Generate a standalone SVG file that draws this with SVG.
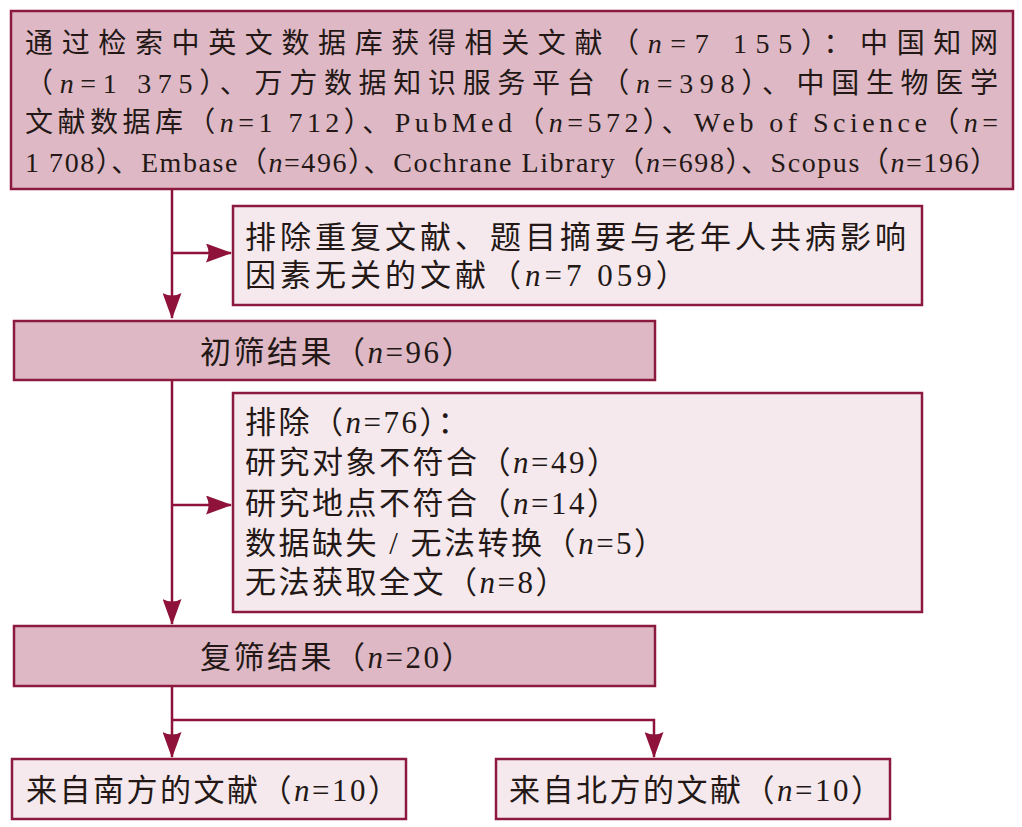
<svg xmlns="http://www.w3.org/2000/svg" width="1022" height="827" viewBox="0 0 1022 827">
<style>
.dark{fill:#DEB9C5;stroke:#8C1A3F;stroke-width:2.5}
.light{fill:#F5E9EE;stroke:#8C1A3F;stroke-width:2.5}
text{font-family:"Liberation Serif","Noto Sans CJK SC",serif;fill:#231815}
.t28{font-size:28px}
.t31{font-size:31px}
.n{font-style:italic}
.conn{fill:none;stroke:#8E1239;stroke-width:2.5}
</style>
<defs>
<marker id="arr" viewBox="0 0 26 19" refX="25" refY="9.5" markerWidth="26" markerHeight="19" markerUnits="userSpaceOnUse" orient="auto">
<path d="M0,0 L26,9.5 L0,19 Q5,9.5 0,0 Z" fill="#8E1239"/>
</marker>
</defs>
<g id="connectors">
<path class="conn" d="M172,189 L172,318" marker-end="url(#arr)"/>
<path class="conn" d="M172,253 L231,253" marker-end="url(#arr)"/>
<path class="conn" d="M172,380 L172,624" marker-end="url(#arr)"/>
<path class="conn" d="M172,505 L231,505" marker-end="url(#arr)"/>
<path class="conn" d="M172,686 L172,757" marker-end="url(#arr)"/>
<path class="conn" d="M172,720 L654,720 L654,757" marker-end="url(#arr)"/>
</g>
<g id="node-search">
<rect class="dark" x="11" y="11" width="1002" height="178"/>
<text class="t28" x="25" y="53" textLength="973" lengthAdjust="spacing">通过检索中英文数据库获得相关文献（<tspan class="n">n</tspan>=7 155）：中国知网</text>
<text class="t28" x="25" y="93" textLength="973" lengthAdjust="spacing">（<tspan class="n">n</tspan>=1 375）、万方数据知识服务平台（<tspan class="n">n</tspan>=398）、中国生物医学</text>
<text class="t28" x="25" y="132" textLength="973" lengthAdjust="spacing">文献数据库（<tspan class="n">n</tspan>=1 712）、PubMed（<tspan class="n">n</tspan>=572）、Web of Science（<tspan class="n">n</tspan>=</text>
<text class="t28" x="25" y="172" textLength="973" lengthAdjust="spacing">1 708）、Embase（<tspan class="n">n</tspan>=496）、Cochrane Library（<tspan class="n">n</tspan>=698）、Scopus（<tspan class="n">n</tspan>=196）</text>
</g>
<g id="node-exclude1">
<rect class="light" x="233" y="206" width="689" height="99"/>
<text class="t31" x="245" y="248" letter-spacing="4">排除重复文献、题目摘要与老年人共病影响</text>
<text class="t31" x="245" y="286" letter-spacing="4">因素无关的文献（<tspan class="n">n</tspan>=7 059）</text>
</g>
<g id="node-initial">
<rect class="dark" x="14" y="321" width="641" height="59"/>
<text class="t31" x="200" y="363" letter-spacing="2.5">初筛结果（<tspan class="n">n</tspan>=96）</text>
</g>
<g id="node-exclude2">
<rect class="light" x="233" y="393" width="689" height="219"/>
<text class="t31" x="245" y="433" letter-spacing="2.5">排除（<tspan class="n">n</tspan>=76）：</text>
<text class="t31" x="245" y="473" letter-spacing="2.5">研究对象不符合（<tspan class="n">n</tspan>=49）</text>
<text class="t31" x="245" y="514" letter-spacing="2.5">研究地点不符合（<tspan class="n">n</tspan>=14）</text>
<text class="t31" x="245" y="554" letter-spacing="2.5">数据缺失 / 无法转换（<tspan class="n">n</tspan>=5）</text>
<text class="t31" x="245" y="593" letter-spacing="2.5">无法获取全文（<tspan class="n">n</tspan>=8）</text>
</g>
<g id="node-rescreen">
<rect class="dark" x="14" y="626" width="641" height="60"/>
<text class="t31" x="200" y="668" letter-spacing="2.5">复筛结果（<tspan class="n">n</tspan>=20）</text>
</g>
<g id="node-south">
<rect class="light" x="12" y="759" width="394" height="60"/>
<text class="t31" x="26" y="801" letter-spacing="2.5">来自南方的文献（<tspan class="n">n</tspan>=10）</text>
</g>
<g id="node-north">
<rect class="light" x="496" y="759" width="394" height="60"/>
<text class="t31" x="509" y="801" letter-spacing="2.5">来自北方的文献（<tspan class="n">n</tspan>=10）</text>
</g>
</svg>
